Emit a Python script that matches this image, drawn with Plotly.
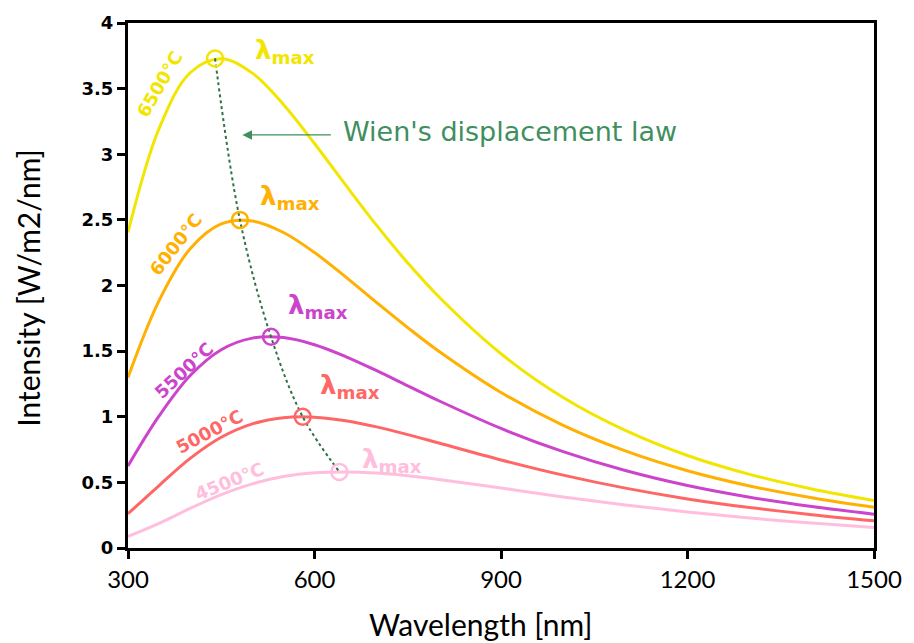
import plotly.graph_objects as go

# ---- data ----
wavelength = [300, 350, 400, 450, 500, 550, 600, 650, 700, 750, 800, 900, 1000, 1100, 1200, 1300, 1400, 1500]
i6500 = [2.405, 3.196, 3.621, 3.728, 3.618, 3.380, 3.082, 2.766, 2.458, 2.172, 1.914, 1.480, 1.147, 0.896, 0.705, 0.561, 0.450, 0.362]
i6000 = [1.300, 1.885, 2.280, 2.469, 2.492, 2.404, 2.251, 2.066, 1.870, 1.679, 1.499, 1.185, 0.935, 0.740, 0.589, 0.473, 0.383, 0.310]
i5500 = [0.625, 1.006, 1.314, 1.511, 1.599, 1.603, 1.549, 1.459, 1.351, 1.236, 1.122, 0.911, 0.734, 0.590, 0.476, 0.387, 0.316, 0.258]
i5000 = [0.261, 0.476, 0.683, 0.844, 0.946, 0.993, 0.997, 0.970, 0.923, 0.864, 0.800, 0.671, 0.555, 0.456, 0.374, 0.308, 0.254, 0.207]
i4500 = [0.088, 0.188, 0.302, 0.407, 0.489, 0.544, 0.573, 0.580, 0.571, 0.550, 0.522, 0.457, 0.389, 0.328, 0.275, 0.228, 0.190, 0.157]

temp_labels = ["6500°C", "6000°C", "5500°C", "5000°C", "4500°C"]
peak_wl = [440, 480, 530, 581, 640]
peak_val = [3.73, 2.50, 1.61, 1.00, 0.58]

x_ticks = [300, 600, 900, 1200, 1500]
y_ticks = [0, 0.5, 1, 1.5, 2, 2.5, 3, 3.5, 4]

colors = ["#F2E600", "#FFB000", "#CC44CC", "#FF6666", "#FFBEDD"]
series = [i6500, i6000, i5500, i5000, i4500]

# label placement (data coords) and rotation
temp_pos = [(351, 3.53, -60), (377, 2.31, -52), (390, 1.35, -43), (431, 0.89, -28), (462, 0.51, -22)]
lmax_pos = [(553, 3.78), (561, 2.67), (606, 1.84), (657, 1.23), (724, 0.67)]
wien_green = "#3F8F5F"

fig = go.Figure()

for vals, col in zip(series, colors):
    fig.add_trace(go.Scatter(x=wavelength, y=vals, mode="lines",
                             line=dict(color=col, width=3, shape="spline", smoothing=1),
                             hoverinfo="skip"))

# Wien's displacement dotted line through peaks
fig.add_trace(go.Scatter(x=peak_wl, y=peak_val, mode="lines",
                         line=dict(color="#2E7048", width=2, dash="dot", shape="spline"),
                         hoverinfo="skip"))

# peak circles
fig.add_trace(go.Scatter(x=peak_wl, y=peak_val, mode="markers",
                         marker=dict(symbol="circle-open", size=16, color=colors,
                                     line=dict(width=2.5, color=colors)),
                         hoverinfo="skip"))

ann = []
for (tx, ty, ang), lab, col in zip(temp_pos, temp_labels, colors):
    ann.append(dict(x=tx, y=ty, xref="x", yref="y", text="<b>" + lab + "</b>",
                    textangle=ang, showarrow=False,
                    font=dict(family="DejaVu Sans", size=18, color=col)))
for (lx, ly), col in zip(lmax_pos, colors):
    ann.append(dict(x=lx, y=ly, xref="x", yref="y",
                    text="<b>λ<sub>max</sub></b>",
                    showarrow=False,
                    font=dict(family="DejaVu Sans", size=26, color=col)))

# arrow + Wien text
ann.append(dict(x=484, y=3.147, xref="x", yref="y", ax=90, ay=0, text="",
                showarrow=True, arrowhead=2, arrowsize=1.6, arrowwidth=1.2,
                arrowcolor=wien_green))
ann.append(dict(x=642, y=3.17, xref="x", yref="y", xanchor="left", yanchor="middle",
                text="Wien's displacement law", showarrow=False,
                font=dict(family="DejaVu Sans", size=27, color=wien_green)))

# axis titles
ann.append(dict(x=0.473, y=-0.145, xref="paper", yref="paper", text="Wavelength [nm]",
                showarrow=False, yanchor="middle",
                font=dict(family="Lato", size=30, color="black")))
ann.append(dict(x=-0.1333, y=0.495, xref="paper", yref="paper", text="Intensity [W/m2/nm]",
                showarrow=False, textangle=-90, xanchor="center",
                font=dict(family="Lato", size=30, color="black")))

fig.update_layout(
    width=914, height=643,
    margin=dict(l=128, r=36, t=17, b=95),
    paper_bgcolor="white", plot_bgcolor="white",
    showlegend=False,
    annotations=ann,
    xaxis=dict(range=[300, 1500], tickvals=x_ticks, ticktext=[str(v) for v in x_ticks],
               ticks="outside", ticklen=8, tickwidth=2.5, tickcolor="black",
               showline=True, linecolor="black", linewidth=3, mirror=True,
               showgrid=False, zeroline=False,
               tickfont=dict(family="Lato", size=24, color="black")),
    yaxis=dict(range=[0, 4], tickvals=y_ticks, ticktext=[("%g" % v) for v in y_ticks],
               ticks="outside", ticklen=8, tickwidth=2.5, tickcolor="black",
               showline=True, linecolor="black", linewidth=3, mirror=True,
               showgrid=False, zeroline=False,
               tickfont=dict(family="DejaVu Sans", size=18, color="black", weight="bold")),
)

fig.write_html("out.html")
